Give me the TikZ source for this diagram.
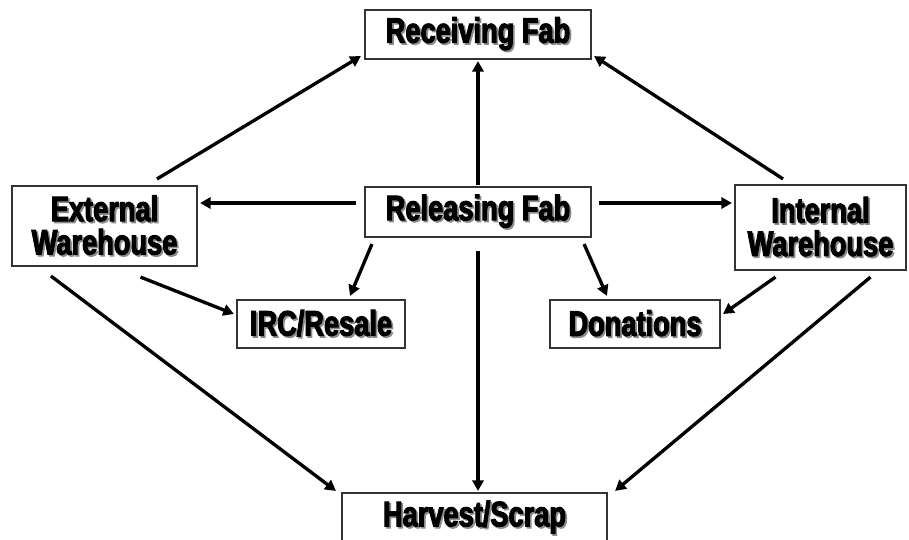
\documentclass[tikz,border=0pt]{standalone}
\usepackage{fontspec}
\usetikzlibrary{calc,arrows.meta}
\newfontfamily\boxfont{Liberation Sans Bold}[FakeStretch=0.77,FakeBold=3]
% text with a soft grey drop shadow
\newcommand\shadowed[1]{\leavevmode\rlap{\kern1.3pt\raisebox{-1.3pt}{\textcolor{black!45}{#1}}}#1}
\tikzset{
  x=0.75pt, y=-0.75pt,
  flowbox/.style={draw=black!80, line width=1.6pt, fill=white, align=center,
    inner sep=0pt, font=\boxfont\fontsize{26.5}{25}\selectfont},
  arr/.style={line width=2.5pt, -{Triangle[length=8pt,width=8.5pt]}}
}
\begin{document}
\begin{tikzpicture}
\useasboundingbox[fill=white] (0,0) rectangle (909,539);

% boxes
\node[flowbox, minimum width=226*0.75pt, minimum height=49*0.75pt] (rf)  at (478,34.5) {\shadowed{Receiving Fab}};
\node[flowbox, minimum width=185*0.75pt, minimum height=80*0.75pt] (ew)  at (104.5,226) {\shadowed{External}\\\shadowed{Warehouse}};
\node[flowbox, minimum width=226*0.75pt, minimum height=50*0.75pt] (rel) at (478,212) {\shadowed{Releasing Fab}};
\node[flowbox, minimum width=171*0.75pt, minimum height=85*0.75pt] (iw)  at (820.5,227.5) {\shadowed{Internal}\\\shadowed{Warehouse}};
\node[flowbox, minimum width=168*0.75pt, minimum height=48*0.75pt] (irc) at (321,324) {\shadowed{IRC/Resale}};
\node[flowbox, minimum width=170*0.75pt, minimum height=48*0.75pt] (don) at (635,324) {\shadowed{Donations}};
\node[flowbox, minimum width=265*0.75pt, minimum height=50*0.75pt] (hs)  at (474.5,518) {\shadowed{Harvest/Scrap}};

% connectors
\draw[arr] ($(ew.north)+(52.5,-6)$)   -- ($(rf.south west)+(-3,-4)$);
\draw[arr] ($(iw.north)+(-37.5,-5)$)  -- ($(rf.south east)+(2,-4)$);
\draw[arr] ($(rel.north)+(0,-1)$)     -- ($(rf.south)+(0,1)$);
\draw[arr] ($(rel.west)+(-8,-9)$)     -- ($(ew.east)+(2,-23)$);
\draw[arr] ($(rel.east)+(7,-9)$)      -- ($(iw.west)+(-2,-24.5)$);
\draw[arr] ($(rel.south west)+(8,6)$) -- ($(irc.north)+(29,-3)$);
\draw[arr] ($(rel.south east)+(-8,6)$) -- ($(don.north)+(-28,-3)$);
\draw[arr] ($(rel.south)+(0,13)$)     -- ($(hs.north)+(3.5,-1)$);
\draw[arr] ($(ew.south)+(36,10)$)     -- ($(irc.west)+(-2,-10)$);
\draw[arr] ($(ew.south west)+(40,9)$) -- ($(hs.north west)+(-5,-1)$);
\draw[arr] ($(iw.south)+(-45,6)$)     -- ($(don.east)+(2,-10)$);
\draw[arr] ($(iw.south)+(50,6)$)      -- ($(hs.north east)+(7,-1)$);
\end{tikzpicture}
\end{document}
